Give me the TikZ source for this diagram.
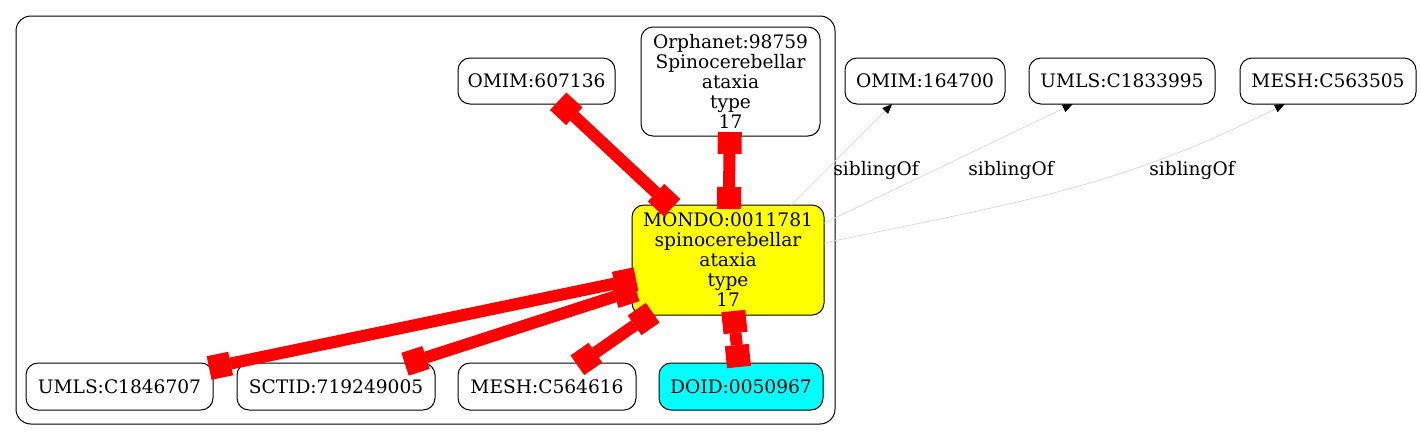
\documentclass[tikz,border=0pt]{standalone}
\usepackage{fontspec}
\setmainfont{DejaVu Serif}
\usetikzlibrary{arrows.meta,calc}
\definecolor{gvyellow}{RGB}{255,255,0}
\definecolor{gvcyan}{RGB}{0,255,255}
\definecolor{gvred}{RGB}{255,0,0}
\definecolor{gvgray}{RGB}{215,215,215}
\begin{document}
\begin{tikzpicture}[x=1pt,y=1pt,
  every node/.style={font=\fontsize{18.6}{20}\selectfont},
  box/.style={draw=black, line width=1pt, rounded corners=12pt, inner sep=0pt, outer sep=0pt, align=center, fill=white},
  clusterbox/.style={draw=black, line width=1pt, rounded corners=15pt, inner sep=0pt, outer sep=0pt},
  rel/.style={draw=gvred, line width=12pt,
    {Square[length=22pt,width=24pt,line width=0pt]}-{Square[length=22pt,width=24pt,line width=0pt]},
    shorten <=-4pt, shorten >=-4pt},
  sib/.style={draw=gvgray, line width=0.7pt, -{Triangle[length=10pt,width=8pt,color=black]}},
  lbl/.style={inner sep=0pt}
]
\useasboundingbox (0,0) rectangle (1421,-440);
\node[clusterbox, minimum width=819pt, minimum height=408pt] (cluster) at (425.5,-220) {};

\node[box, minimum width=157pt, minimum height=46pt] (omim1) at (536.5,-81) {OMIM:607136};
\node[box, minimum width=179pt, minimum height=109pt] (orph) at (730.5,-81.5) {Orphanet:98759\\Spinocerebellar\\ataxia\\type\\17};
\node[box, fill=gvyellow, minimum width=192pt, minimum height=110pt] (mondo) at (728,-260) {MONDO:0011781\\spinocerebellar\\ataxia\\type\\17};
\node[box, minimum width=187pt, minimum height=47pt] (umls1) at (119.5,-386.5) {UMLS:C1846707};
\node[box, minimum width=198pt, minimum height=47pt] (sctid) at (336,-386.5) {SCTID:719249005};
\node[box, minimum width=178pt, minimum height=47pt] (mesh1) at (547,-386.5) {MESH:C564616};
\node[box, fill=gvcyan, minimum width=164pt, minimum height=47pt] (doid) at (741,-386.5) {DOID:0050967};
\node[box, minimum width=160pt, minimum height=46pt] (omim2) at (925,-81) {OMIM:164700};
\node[box, minimum width=186pt, minimum height=46pt] (umls2) at (1122,-81) {UMLS:C1833995};
\node[box, minimum width=176pt, minimum height=46pt] (mesh2) at (1328,-81) {MESH:C563505};

\draw[sib] (mondo.41.6) -- (omim2.215.7);
\draw[sib] (mondo.21.8) -- (umls2.205.1);
\draw[sib] (mondo.10.1) to[out=12,in=-153] (mesh2.208.7);
\node[lbl] (l1) at (876,-170) {siblingOf};
\node[lbl] (l2) at (1011,-170) {siblingOf};
\node[lbl] (l3) at (1192,-170) {siblingOf};

\draw[rel] (omim1) -- (mondo);
\draw[rel] (orph) -- (mondo);
\draw[rel] (mondo) -- (umls1);
\draw[rel] (mondo) -- (sctid);
\draw[rel] (mondo) -- (mesh1);
\draw[rel] (mondo) -- (doid);
\end{tikzpicture}
\end{document}
